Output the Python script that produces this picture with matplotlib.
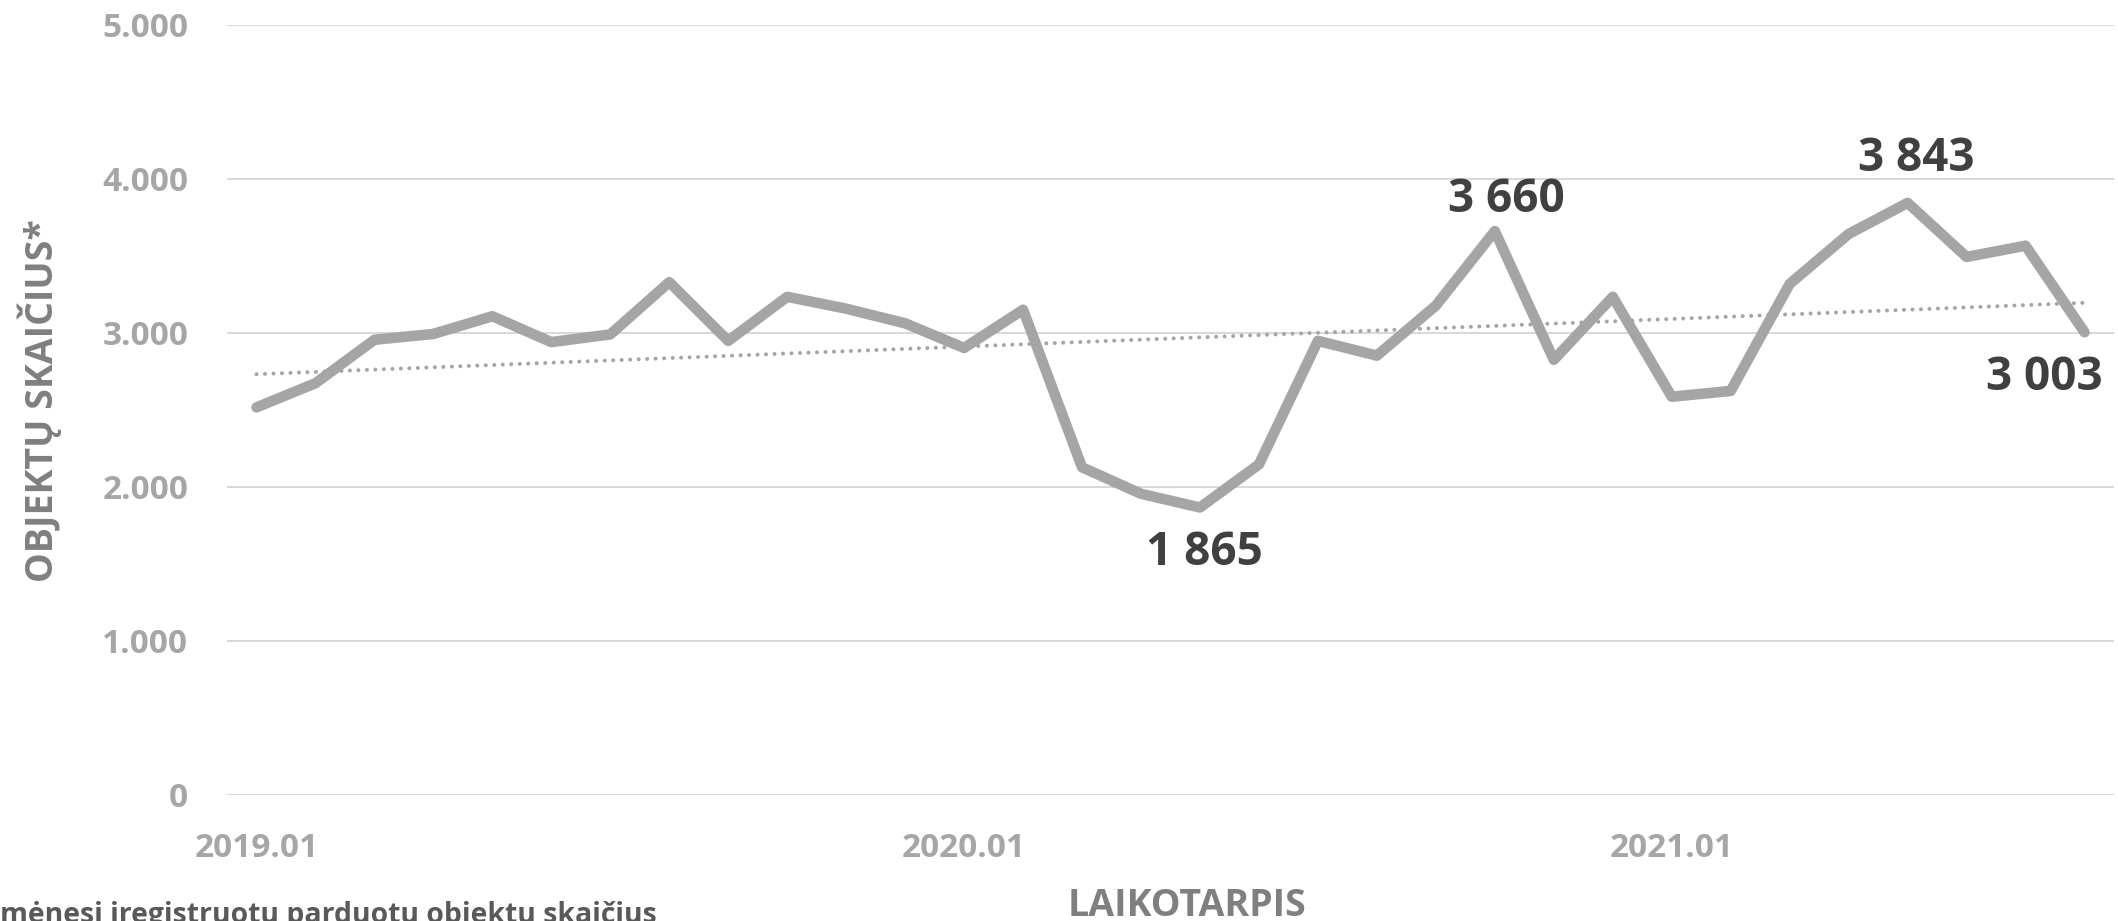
import matplotlib
matplotlib.use("Agg")
import matplotlib.pyplot as plt
import numpy as np

# ---- data ----
months = [f"{y}.{m:02d}" for y in (2019, 2020, 2021) for m in range(1, 13)][:32]
values = [2515, 2672, 2954, 2992, 3107, 2939, 2989, 3328, 2947, 3233, 3156, 3061,
          2901, 3149, 2126, 1954, 1865, 2145, 2947, 2851, 3176, 3660, 2824, 3233,
          2584, 2622, 3317, 3641, 3843, 3492, 3565, 3003]
tick_labels = ["2019.01", "2020.01", "2021.01"]
y_ticks = [0, 1000, 2000, 3000, 4000, 5000]
annotated = {"2020.05": (4, -45), "2020.10": (12, 32), "2021.05": (9, 44), "2021.08": (-40, -45)}
y_label = "OBJEKTŲ SKAIČIUS*"
x_label = "LAIKOTARPIS"
footnote = "mėnesį įregistruotų parduotų objektų skaičius"

plt.rcParams['font.family'] = ['Open Sans', 'DejaVu Sans']

W, H = 2118, 921
fig = plt.figure(figsize=(W / 100, H / 100), dpi=100)
ax = fig.add_axes([227 / W, 1 - 794.7 / H, (2114 - 227) / W, (794.7 - 24.7) / H])

x = np.arange(len(values))
ax.plot(x, values, color='#a5a5a5', lw=7.6, solid_capstyle='round', solid_joinstyle='round', zorder=3)

# linear trend
k, b = np.polyfit(x, values, 1)
ax.plot(x, k * x + b, color='#a5a5a5', lw=2.9, linestyle=(0, (0.01, 2.1)),
        dash_capstyle='round', zorder=2)

for lab, (dx, dy) in annotated.items():
    i = months.index(lab)
    v = values[i]
    ax.annotate(f"{v:,}".replace(",", " "), xy=(i, v), xytext=(dx, dy),
                textcoords='offset pixels', ha='center', va='center',
                fontsize=33, fontweight='bold', color='#404040', zorder=4)

ax.set_xlim(-0.5, len(values) - 0.5)
ax.set_ylim(0, 5000)
ax.set_yticks(y_ticks)
ax.set_yticklabels([f"{t:,}".replace(",", ".") for t in y_ticks])
ax.set_xticks([months.index(t) for t in tick_labels])
ax.set_xticklabels(tick_labels)
ax.tick_params(axis='both', length=0, labelsize=24, labelcolor='#a6a6a6')
ax.tick_params(axis='y', pad=28)
ax.tick_params(axis='x', pad=27)
for t in ax.get_xticklabels() + ax.get_yticklabels():
    t.set_fontweight('bold')
ax.grid(axis='y', color='#d9d9d9', lw=1.5)
ax.set_axisbelow(True)
for s in ax.spines.values():
    s.set_visible(False)

fig.text(40 / W, 1 - 401 / H, y_label, rotation=90, ha='center', va='center',
         fontsize=27, fontweight='bold', color='#7f7f7f')
fig.text(1187 / W, 1 - 916 / H, x_label, ha='center', va='baseline',
         fontsize=27, fontweight='bold', color='#7f7f7f')
fig.text(0 / W, 1 - 923 / H, footnote, ha='left', va='baseline',
         fontsize=20.4, fontweight='bold', color='#595959')

fig.savefig("out.png", dpi=100, facecolor='white')
